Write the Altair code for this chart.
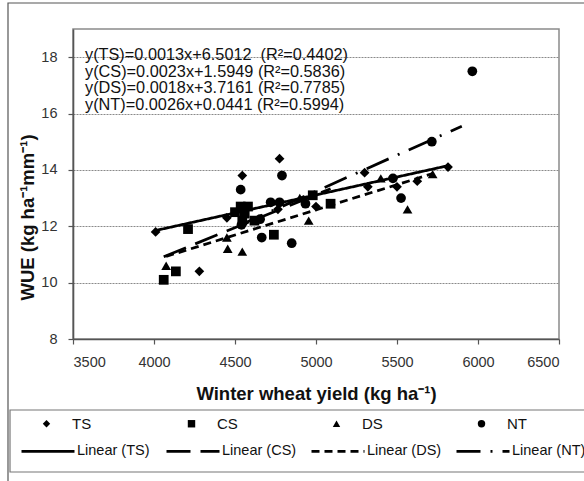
import altair as alt
import pandas as pd

# ---------------- data ----------------
series_names = ["TS", "CS", "DS", "NT"]
series_shapes = ["diamond", "square", "triangle-up", "circle"]

ts_x = [4010, 4280, 4450, 4545, 4765, 4775, 5000, 5300, 5320, 5500, 5625, 5815]
ts_y = [11.8, 10.4, 12.3, 13.8, 12.6, 14.4, 12.7, 13.9, 13.4, 13.4, 13.6, 14.1]

cs_x = [4060, 4135, 4210, 4500, 4535, 4580, 4560, 4545, 4620, 4740, 4980, 5090]
cs_y = [10.1, 10.4, 11.9, 12.5, 12.7, 12.7, 12.45, 12.2, 12.2, 11.7, 13.1, 12.8]

ds_x = [4075, 4450, 4455, 4545, 4900, 4955, 5400, 5565, 5720]
ds_y = [10.6, 11.6, 11.2, 11.1, 13.0, 12.2, 13.7, 12.6, 13.85]

nt_x = [4535, 4540, 4655, 4665, 4720, 4775, 4790, 4850, 4935, 5475, 5525, 5715, 5965]
nt_y = [13.3, 12.05, 12.25, 11.6, 12.85, 12.85, 13.8, 11.4, 12.8, 13.7, 13.0, 15.0, 17.5]

fit_labels = ["Linear (TS)", "Linear (CS)", "Linear (DS)", "Linear (NT)"]
fit_x_start = [4010, 4060, 4075, 4535]
fit_y_start = [11.85, 10.92, 10.93, 12.05]
fit_x_end = [5815, 5090, 5720, 5900]
fit_y_end = [14.15, 13.33, 13.87, 15.55]
fit_dashes = [[1, 0], [24, 10], [8, 5], [24, 10, 2, 10]]

equations = [
    "y(TS)=0.0013x+6.5012\u00a0\u00a0(R²=0.4402)",
    "y(CS)=0.0023x+1.5949 (R²=0.5836)",
    "y(DS)=0.0018x+3.7161 (R²=0.7785)",
    "y(NT)=0.0026x+0.0441 (R²=0.5994)",
]

x_ticks = [3500, 4000, 4500, 5000, 5500, 6000, 6500]
y_ticks = [8, 10, 12, 14, 16, 18]

x_title = "Winter wheat yield (kg ha⁻¹)"
y_title = "WUE (kg ha⁻¹mm⁻¹)"

# ---------------- tables ----------------
rows = []
for name, xs, ys in zip(series_names, [ts_x, cs_x, ds_x, nt_x], [ts_y, cs_y, ds_y, nt_y]):
    for xv, yv in zip(xs, ys):
        rows.append({"x": xv, "y": yv, "series": name})
pts = pd.DataFrame(rows)

frows = []
for lab, x0, y0, x1, y1 in zip(fit_labels, fit_x_start, fit_y_start, fit_x_end, fit_y_end):
    frows.append({"x": x0, "y": y0, "fit": lab})
    frows.append({"x": x1, "y": y1, "fit": lab})
fits = pd.DataFrame(frows)

FONT = "Liberation Sans"

x_scale = alt.Scale(domain=[3500, 6500], nice=False, zero=False)
y_scale = alt.Scale(domain=[8, 19], nice=False, zero=False)

x_enc = alt.X("x:Q", scale=x_scale,
              axis=alt.Axis(values=x_ticks, title=x_title, grid=False,
                            labelPadding=11, titlePadding=16, format="d"))
y_enc = alt.Y("y:Q", scale=y_scale,
              axis=alt.Axis(values=y_ticks, title=y_title, grid=True,
                            labelPadding=11, titleX=-46, titleY=188,
                            titleBaseline="middle", format="d"))

lines = alt.Chart(fits).mark_line(color="black", strokeWidth=2.75).encode(
    x=x_enc,
    y=y_enc,
    strokeDash=alt.StrokeDash(
        "fit:N",
        scale=alt.Scale(domain=fit_labels, range=fit_dashes),
        title=None,
        legend=alt.Legend(orient="none", legendX=-53, legendY=394,
                          direction="horizontal", columns=4, gridAlign="all",
                          columnPadding=9, labelOffset=1, symbolType="stroke",
                          symbolSize=2809, symbolStrokeWidth=2.75,
                          symbolStrokeColor="black",
                          labelFont=FONT, labelFontSize=14.5, labelColor="#111",
                          padding=0),
    ),
)

points = alt.Chart(pts).mark_point(filled=True, color="black", opacity=1, size=95).encode(
    x=x_enc,
    y=y_enc,
    shape=alt.Shape(
        "series:N",
        scale=alt.Scale(domain=series_names, range=series_shapes),
        title=None,
        legend=alt.Legend(orient="none", legendX=-34, legendY=387,
                          direction="horizontal", columns=4, gridAlign="all",
                          columnPadding=91, labelOffset=18, symbolSize=55,
                          symbolFillColor="black", symbolStrokeColor="black",
                          labelFont=FONT, labelFontSize=15, labelColor="#111",
                          padding=0),
    ),
)

eq_text = alt.Chart(pd.DataFrame({"k": [0]})).mark_text(
    text=equations, align="left", baseline="top", lineHeight=16.5,
    font=FONT, fontSize=16.3, color="#111",
).encode(x=alt.value(12), y=alt.value(18))

outer_frame = alt.Chart(pd.DataFrame({"k": [0]})).mark_rect(
    filled=False, stroke="#555555", strokeWidth=1.2,
).encode(x=alt.value(-65), x2=alt.value(640), y=alt.value(-26), y2=alt.value(560))

legend_box = alt.Chart(pd.DataFrame({"k": [0]})).mark_rect(
    filled=False, stroke="#777777", strokeWidth=1.2,
).encode(x=alt.value(-63), x2=alt.value(640), y=alt.value(381), y2=alt.value(443))

chart = alt.layer(outer_frame, legend_box, lines, points, eq_text).properties(
    width=486, height=310,
    padding={"left": 73, "top": 29, "right": 25, "bottom": 142},
    autosize=alt.AutoSizeParams(type="none"),
).configure_view(
    stroke="#8a8a8a", strokeWidth=1.5,
).configure_axis(
    domainColor="#555555", domainWidth=1.6, tickColor="#555555", tickSize=5,
    tickWidth=1.2, labelFont=FONT, labelFontSize=14.5, labelColor="#333333",
    titleFont=FONT, titleFontSize=18.5, titleFontWeight="bold", titleColor="#111111",
    gridColor="#8a8a8a", gridDash=[2, 1], gridWidth=1,
)

chart.save("out.html", embed_options={"renderer": "svg", "actions": False})
